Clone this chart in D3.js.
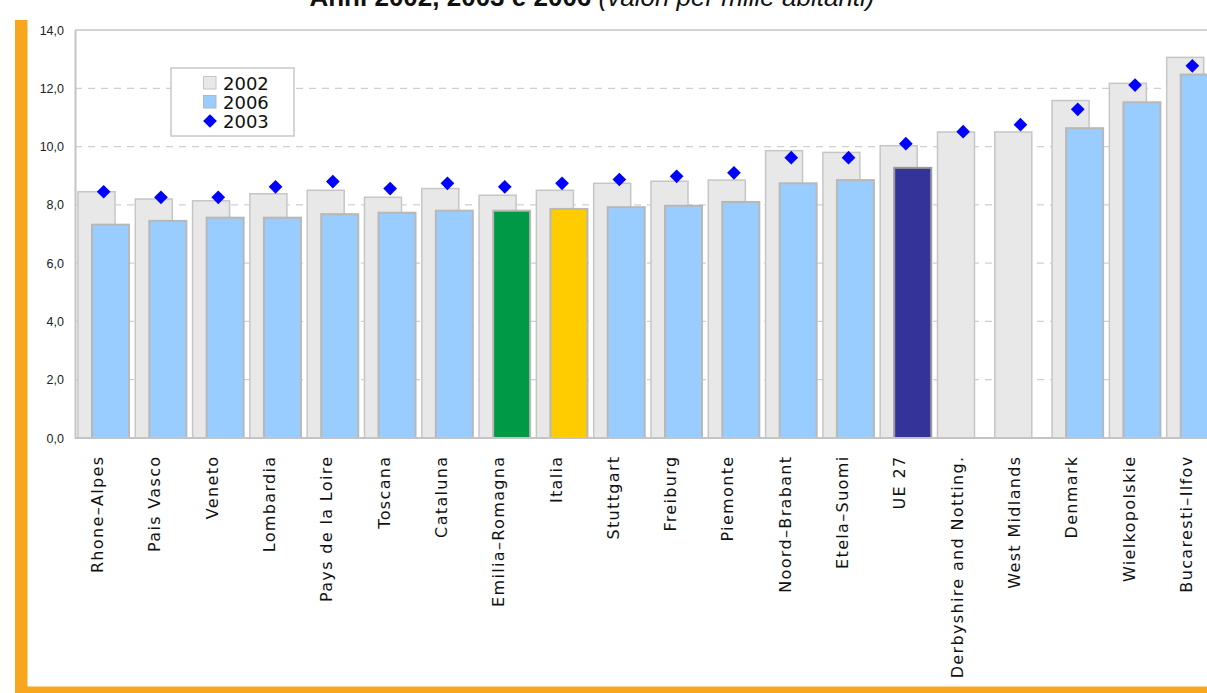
<!DOCTYPE html>
<html>
<head>
<meta charset="utf-8">
<script src="https://cdn.jsdelivr.net/npm/d3@7/dist/d3.min.js"></script>
<style>
  html, body { margin: 0; padding: 0; background: #ffffff; }
  svg { display: block; }
</style>
</head>
<body>
<svg id="chart" width="1207" height="693"></svg>
<script>
// Regions, ordered by the 2006 rate
const categories = [
  "Rhone–Alpes", "Pais Vasco", "Veneto", "Lombardia", "Pays de la Loire",
  "Toscana", "Cataluna", "Emilia–Romagna", "Italia", "Stuttgart",
  "Freiburg", "Piemonte", "Noord–Brabant", "Etela–Suomi", "UE 27",
  "Derbyshire and Notting.", "West Midlands", "Denmark", "Wielkopolskie", "Bucaresti–Ilfov"
];

// Rates per thousand inhabitants
const values2002 = [8.45, 8.20, 8.14, 8.38, 8.50, 8.26, 8.56, 8.33, 8.50, 8.74,
                    8.81, 8.85, 9.86, 9.80, 10.03, 10.50, 10.50, 11.58, 12.17, 13.06];
const values2003 = [8.45, 8.26, 8.26, 8.62, 8.80, 8.56, 8.74, 8.62, 8.74, 8.87,
                    8.98, 9.10, 9.62, 9.62, 10.10, 10.51, 10.75, 11.28, 12.11, 12.77];
const values2006 = [7.32, 7.45, 7.56, 7.56, 7.68, 7.73, 7.80, 7.80, 7.86, 7.92,
                    7.97, 8.10, 8.74, 8.85, 9.27, null, null, 10.63, 11.52, 12.47];

const yTicks = [0, 2, 4, 6, 8, 10, 12, 14];
const legendLabels = ["2002", "2006", "2003"];

// Highlighted bars for 2006
const highlight = { "Emilia–Romagna": "#009a46", "Italia": "#ffcc00", "UE 27": "#333399" };

const svg = d3.select("#chart");
const plotLeft = 75, plotTop = 30, plotBottom = 438, plotRight = 75 + 20 * 57.3;

const x = d3.scaleBand().domain(categories).range([plotLeft, plotRight]).padding(0);
const y = d3.scaleLinear().domain([0, 14]).range([plotBottom, plotTop]);
const step = x.bandwidth();
const barW = step * 0.646;

const fmt = v => d3.format(".1f")(v).replace(".", ",");

// Page frame accents
svg.append("rect").attr("x", 15).attr("y", 20).attr("width", 12.5).attr("height", 673).attr("fill", "#f7a61e");
svg.append("rect").attr("x", 15).attr("y", 686.5).attr("width", 1192).attr("height", 7).attr("fill", "#f7a61e");

// Title
const title = svg.append("text")
  .attr("x", 592).attr("y", 6)
  .attr("text-anchor", "middle")
  .attr("font-family", "Liberation Sans, Arial, sans-serif")
  .attr("font-size", 26)
  .attr("fill", "#111");
title.append("tspan").attr("font-weight", "bold").text("Anni 2002, 2003 e 2006 ");
title.append("tspan").attr("font-style", "italic").text("(valori per mille abitanti)");

// Gridlines
svg.append("g").selectAll("line")
  .data(yTicks.filter(t => t > 0 && t < 14))
  .join("line")
  .attr("x1", plotLeft).attr("x2", 1207)
  .attr("y1", d => y(d)).attr("y2", d => y(d))
  .attr("stroke", "#cfcfcf").attr("stroke-width", 1.2)
  .attr("stroke-dasharray", "7,6");

// Plot frame: top border and y axis
svg.append("line").attr("x1", plotLeft).attr("x2", 1207).attr("y1", y(14)).attr("y2", y(14))
  .attr("stroke", "#c4c4c4").attr("stroke-width", 1.5);

const yAxis = d3.axisLeft(y).tickValues(yTicks).tickSize(0).tickPadding(11).tickFormat(fmt);
const gy = svg.append("g").attr("transform", `translate(${plotLeft},0)`).call(yAxis);
gy.select(".domain").attr("stroke", "#c4c4c4").attr("stroke-width", 2);
gy.selectAll("text")
  .attr("font-family", "Liberation Sans, Arial, sans-serif")
  .attr("font-size", 12.5).attr("fill", "#222");

// 2002 bars
svg.append("g").selectAll("rect")
  .data(categories.map((c, i) => ({ c, v: values2002[i] })))
  .join("rect")
  .attr("x", d => x(d.c) + step * 0.052)
  .attr("y", d => y(d.v))
  .attr("width", barW)
  .attr("height", d => y(0) - y(d.v))
  .attr("fill", "#e8e8e8").attr("stroke", "#c6c6c6").attr("stroke-width", 1.5);

// 2006 bars
svg.append("g").selectAll("rect")
  .data(categories.map((c, i) => ({ c, v: values2006[i] })).filter(d => d.v !== null))
  .join("rect")
  .attr("x", d => x(d.c) + step * 0.297)
  .attr("y", d => y(d.v))
  .attr("width", barW)
  .attr("height", d => y(0) - y(d.v))
  .attr("fill", d => highlight[d.c] || "#99ccff")
  .attr("stroke", d => d.c === "UE 27" ? "#9a9a9a" : "#b8b8b8").attr("stroke-width", 2);

// x axis line
svg.append("line").attr("x1", plotLeft).attr("x2", 1207).attr("y1", y(0)).attr("y2", y(0))
  .attr("stroke", "#c4c4c4").attr("stroke-width", 2);

// 2003 markers
const diamond = d3.symbol().type(d3.symbolDiamond2).size(120);
svg.append("g").selectAll("path")
  .data(categories.map((c, i) => ({ c, v: values2003[i] })))
  .join("path")
  .attr("transform", d => `translate(${x(d.c) + step / 2},${y(d.v)})`)
  .attr("d", diamond)
  .attr("fill", "#0000ff");

// Category labels
svg.append("g").selectAll("text")
  .data(categories)
  .join("text")
  .attr("transform", d => `translate(${x(d) + step / 2 - 0.5},455.5) rotate(-90)`)
  .attr("text-anchor", "end")
  .attr("font-family", "DejaVu Sans, sans-serif")
  .attr("font-size", 16)
  .attr("letter-spacing", 1.35)
  .attr("fill", "#111")
  .text(d => d);

// Legend
const lg = svg.append("g");
lg.append("rect").attr("x", 171).attr("y", 68).attr("width", 123).attr("height", 68)
  .attr("fill", "#fff").attr("stroke", "#c8c8c8").attr("stroke-width", 1.5);
const rowY = [83, 102, 121];
lg.append("rect").attr("x", 203.5).attr("y", rowY[0] - 6.5).attr("width", 12.5).attr("height", 12.5)
  .attr("fill", "#e8e8e8").attr("stroke", "#c6c6c6").attr("stroke-width", 1);
lg.append("rect").attr("x", 203.5).attr("y", rowY[1] - 6.5).attr("width", 12.5).attr("height", 12.5)
  .attr("fill", "#99ccff").attr("stroke", "#b8b8b8").attr("stroke-width", 1);
lg.append("path").attr("transform", `translate(210,${rowY[2]})`).attr("d", diamond).attr("fill", "#0000ff");
lg.selectAll("text.lab")
  .data(legendLabels)
  .join("text")
  .attr("class", "lab")
  .attr("x", 223).attr("y", (d, i) => rowY[i] + 6.5)
  .attr("font-family", "DejaVu Sans, sans-serif")
  .attr("font-size", 18).attr("fill", "#111")
  .text(d => d);
</script>
</body>
</html>
